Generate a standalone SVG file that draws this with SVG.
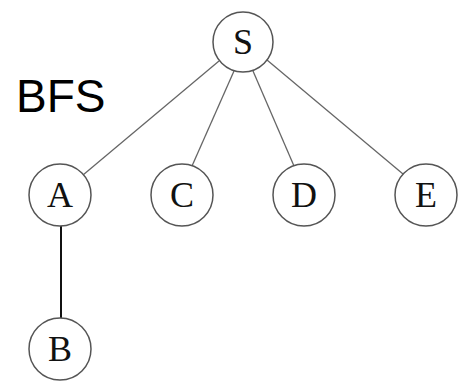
<svg xmlns="http://www.w3.org/2000/svg" width="459" height="381" viewBox="0 0 459 381">
<style>
.n circle{fill:#fff;stroke:#555;stroke-width:1.5}
.n text{font-family:"Liberation Serif",serif;font-size:36px;text-anchor:middle;fill:#111}
.e{stroke:#666;stroke-width:1.3;fill:none}
.title{font-family:"Liberation Sans",Arial,sans-serif;font-size:46px;fill:#000}
</style>
<rect width="459" height="381" fill="#fff"/>
<text class="title" x="16" y="112">BFS</text>
<g id="connectors">
<line class="e" x1="219" y1="61" x2="83" y2="175"/>
<line class="e" x1="234" y1="71" x2="192" y2="166"/>
<line class="e" x1="253" y1="71" x2="294" y2="166"/>
<line class="e" x1="267" y1="60" x2="403" y2="174"/>
<line x1="61" y1="226" x2="61" y2="318" stroke="#111" stroke-width="2"/>
</g>
<g id="S" class="n"><circle cx="243" cy="42" r="30"/><text x="243" y="54">S</text></g>
<g id="A" class="n"><circle cx="60" cy="195" r="31"/><text x="60" y="207">A</text></g>
<g id="C" class="n"><circle cx="182" cy="195" r="31"/><text x="182" y="207">C</text></g>
<g id="D" class="n"><circle cx="304" cy="195" r="31"/><text x="304" y="207">D</text></g>
<g id="E" class="n"><circle cx="426" cy="195" r="31"/><text x="426" y="207">E</text></g>
<g id="B" class="n"><circle cx="60" cy="349" r="31"/><text x="60" y="361">B</text></g>
</svg>
